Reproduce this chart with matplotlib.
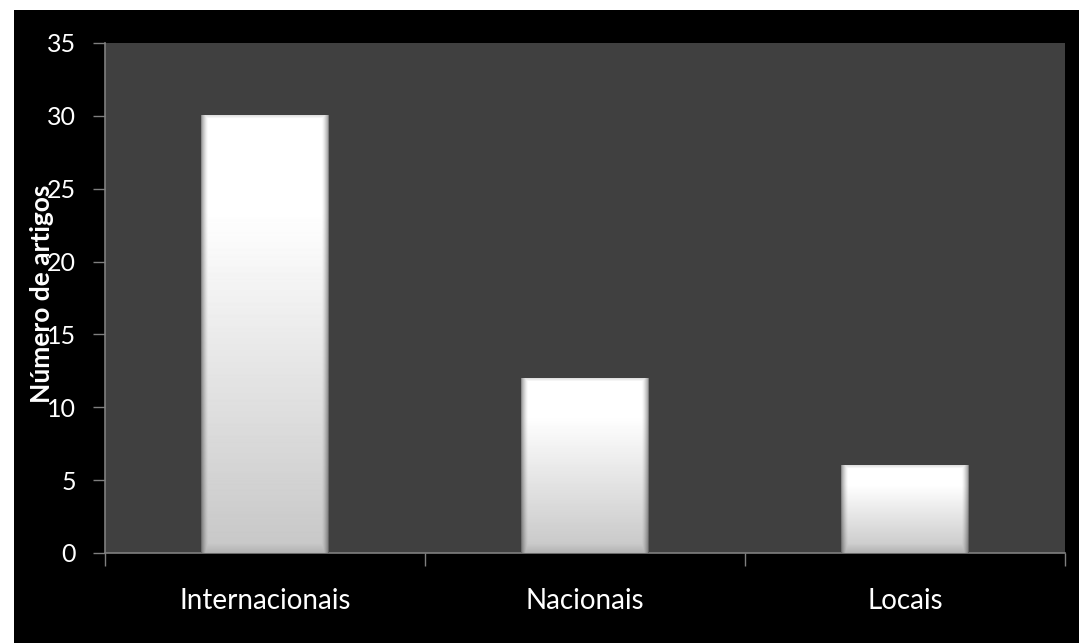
import numpy as np
import matplotlib
matplotlib.use("Agg")
import matplotlib.pyplot as plt
from matplotlib.patches import Rectangle

categories = ["Internacionais", "Nacionais", "Locais"]
valores = [30, 12, 6]
y_ticks = [0, 5, 10, 15, 20, 25, 30, 35]

plt.rcParams['font.family'] = ['Lato', 'DejaVu Sans']

W_PX, H_PX = 1079, 643
fig = plt.figure(figsize=(W_PX / 100, H_PX / 100), dpi=100, facecolor="white")
# black panel behind the chart
fig.patches.append(Rectangle((14 / W_PX, 0), 1 - 14 / W_PX, 1 - 10 / H_PX,
                             transform=fig.transFigure, facecolor="black",
                             edgecolor="none", zorder=-10))

left, right, top, bottom = 105, 1065, 43, 553
ax = fig.add_axes([left / W_PX, 1 - bottom / H_PX, (right - left) / W_PX, (bottom - top) / H_PX])
ax.set_zorder(1)
ax.set_facecolor("#404040")

bar_w = 0.40
px_per_x = (right - left) / len(categories)
px_per_y = (bottom - top) / 35.0


def bar_image(wpx, hpx):
    """Grey-scale beveled bar face, white on top fading to light grey."""
    i = np.arange(hpx)[:, None]
    j = np.arange(wpx)[None, :]
    t = i / max(hpx - 1, 1)
    base = np.where(t < 0.22, 1.0, 1.0 - (t - 0.22) / 0.78 * 0.22)
    base = np.broadcast_to(base, (hpx, wpx)).copy()
    dx = np.minimum(j, wpx - 1 - j)
    dbot = hpx - 1 - i
    dtop = i
    d_side = np.broadcast_to(dx, (hpx, wpx))
    bev = 7.0
    side = np.clip(1 - d_side / bev, 0, 1) ** 1.5 * 0.40
    bot = np.broadcast_to(np.clip(1 - dbot / 9.0, 0, 1), (hpx, wpx)) * 0.10
    topb = np.broadcast_to(np.clip(1 - dtop / 3.0, 0, 1), (hpx, wpx)) * 0.12
    shade = np.maximum(np.maximum(side, bot), topb)
    # darker outline on the very edge
    shade[:, 0] = 0.45
    shade[:, -1] = 0.50
    return base * (1 - shade)


xs = np.arange(len(categories))
bars = ax.bar(xs, valores, width=bar_w, color="none", edgecolor="none", zorder=2)
for b in bars:
    x0, h = b.get_x(), b.get_height()
    wpx = int(round(bar_w * px_per_x))
    hpx = max(int(round(h * px_per_y)), 2)
    img = bar_image(wpx, hpx)
    ax.imshow(img, cmap="gray", vmin=0, vmax=1, aspect="auto", interpolation="bilinear",
              extent=(x0, x0 + bar_w, 0, h), zorder=3)
ax.set_xlim(-0.5, len(categories) - 0.5)
ax.set_ylim(0, 35)

for s in ["top", "right"]:
    ax.spines[s].set_visible(False)
for s in ["left", "bottom"]:
    ax.spines[s].set_color("#7f7f7f")
    ax.spines[s].set_linewidth(1.2)

ax.set_yticks(y_ticks)
ax.tick_params(axis="y", colors="#7f7f7f", labelcolor="white", labelsize=18, length=9, width=1, pad=12)
ax.set_xticks(xs)
ax.set_xticklabels(categories)
ax.tick_params(axis="x", length=0, labelcolor="white", labelsize=20, pad=25)
ax.set_xticks([-0.5, 0.5, 1.5, 2.5], minor=True)
ax.tick_params(axis="x", which="minor", colors="#7f7f7f", length=9, width=1)

fig.text(42 / W_PX, 1 - 294 / H_PX, "Número de artigos", rotation=90, color="white",
         fontsize=19, fontweight="bold", ha="center", va="center", zorder=5)

fig.savefig("out.png", dpi=100, facecolor=fig.get_facecolor())
